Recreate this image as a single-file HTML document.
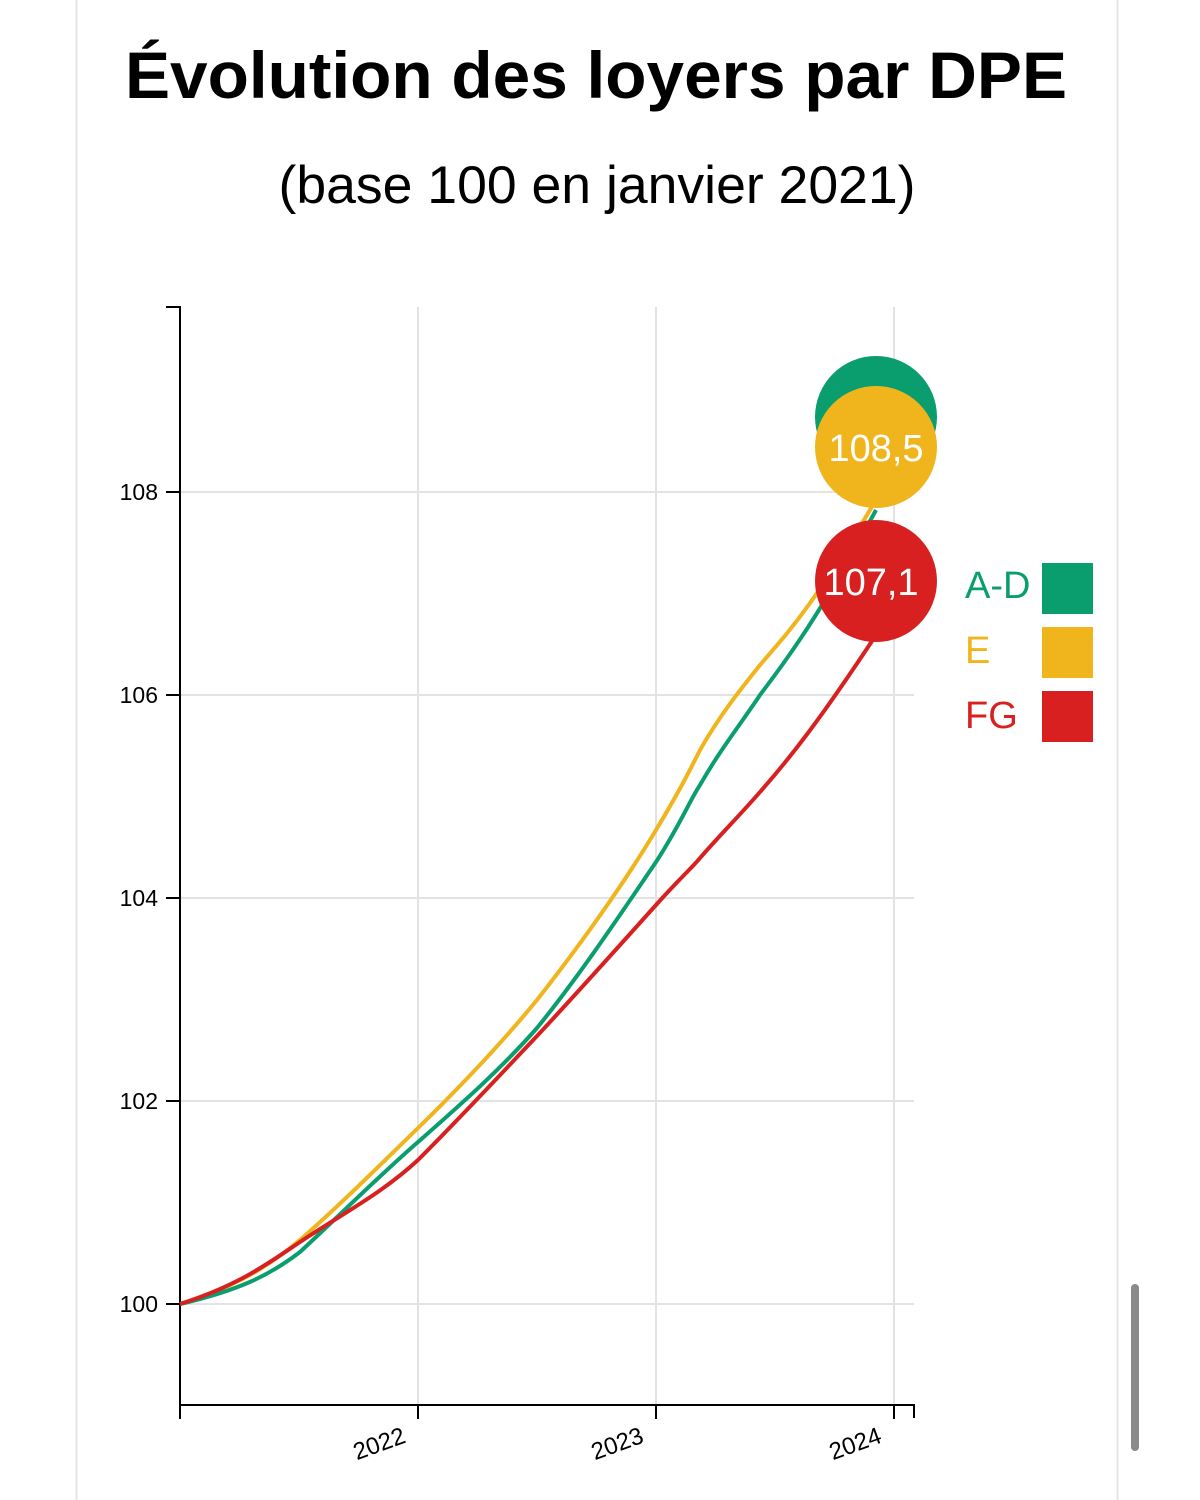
<!DOCTYPE html>
<html><head><meta charset="utf-8"><style>
html,body{margin:0;padding:0;background:#fff;width:1200px;height:1500px;overflow:hidden}
svg{display:block}
</style></head><body>
<svg width="1200" height="1500" viewBox="0 0 1200 1500" font-family="Liberation Sans, sans-serif">
<rect width="1200" height="1500" fill="#fff"/>
<line x1="76.5" y1="0" x2="76.5" y2="1500" stroke="#e4e4e4" stroke-width="2"/>
<line x1="1117.5" y1="0" x2="1117.5" y2="1500" stroke="#e4e4e4" stroke-width="2"/>
<text x="596" y="98" text-anchor="middle" font-size="66" font-weight="bold" fill="#000" textLength="942" lengthAdjust="spacingAndGlyphs">Évolution des loyers par DPE</text>
<text x="597" y="203" text-anchor="middle" font-size="53" fill="#000" textLength="637" lengthAdjust="spacingAndGlyphs">(base 100 en janvier 2021)</text>
<g stroke="#e3e3e3" stroke-width="2">
<line x1="180" y1="1304" x2="914" y2="1304"/><line x1="180" y1="1101" x2="914" y2="1101"/>
<line x1="180" y1="898" x2="914" y2="898"/><line x1="180" y1="695" x2="914" y2="695"/>
<line x1="180" y1="492" x2="914" y2="492"/>
<line x1="418" y1="307" x2="418" y2="1405"/><line x1="656" y1="307" x2="656" y2="1405"/><line x1="894" y1="307" x2="894" y2="1405"/>
</g>
<g stroke="#000" stroke-width="2" fill="none">
<path d="M166 307H180V1405H914V1418"/>
<line x1="166" y1="1304" x2="180" y2="1304"/><line x1="166" y1="1101" x2="180" y2="1101"/>
<line x1="166" y1="898" x2="180" y2="898"/><line x1="166" y1="695" x2="180" y2="695"/>
<line x1="166" y1="492" x2="180" y2="492"/>
<line x1="180" y1="1405" x2="180" y2="1419"/><line x1="418" y1="1405" x2="418" y2="1419"/>
<line x1="656" y1="1405" x2="656" y2="1419"/><line x1="894" y1="1405" x2="894" y2="1419"/>
</g>
<g font-size="23" text-anchor="end" fill="#000">
<text x="158" y="1312">100</text><text x="158" y="1109">102</text><text x="158" y="906">104</text>
<text x="158" y="703">106</text><text x="158" y="500">108</text>
</g>
<g font-size="24" fill="#000" text-anchor="end">
<text transform="translate(407,1442) rotate(-20)">2022</text>
<text transform="translate(645,1442) rotate(-20)">2023</text>
<text transform="translate(883,1442) rotate(-20)">2024</text>
</g>
<g fill="none" stroke-width="4">
<path stroke="#f0b41c" d="M180 1304 C240 1285 270 1265 300 1240 C340 1205 380 1165 418 1128 C460 1087 500 1045 537 1000 C580 945 620 890 656 830 C680 790 690 770 700 750 C720 715 740 690 760 665 C790 630 810 610 876 500"/>
<path stroke="#0a9e6e" d="M180 1304 C240 1290 270 1275 300 1252 C340 1215 380 1175 418 1142 C460 1105 500 1070 537 1028 C580 975 620 915 656 862 C680 825 690 800 700 785 C720 750 740 725 760 695 C790 655 820 615 876 510"/>
<path stroke="#d92020" d="M180 1304 C240 1285 270 1262 300 1242 C340 1215 380 1195 418 1160 C460 1118 500 1075 537 1036 C580 990 620 945 656 905 C680 878 690 870 700 858 C720 835 740 815 760 792 C790 758 820 720 876 635"/>
</g>
<circle cx="876" cy="417" r="61" fill="#0a9e6e"/>
<circle cx="876" cy="447" r="61" fill="#f0b41c"/>
<text x="876" y="461" text-anchor="middle" font-size="38" fill="#fff">108,5</text>
<circle cx="876" cy="581" r="61" fill="#d92020"/>
<text x="871" y="595" text-anchor="middle" font-size="38" fill="#fff">107,1</text>
<g font-size="38">
<text x="965" y="598" fill="#0a9e6e">A-D</text>
<text x="965" y="663" fill="#f0b41c">E</text>
<text x="965" y="728" fill="#d92020">FG</text>
</g>
<rect x="1042" y="563" width="51" height="51" fill="#0a9e6e"/>
<rect x="1042" y="627" width="51" height="51" fill="#f0b41c"/>
<rect x="1042" y="691" width="51" height="51" fill="#d92020"/>
<rect x="1131" y="1284" width="8" height="167" rx="4" fill="#8a8a8a"/>
</svg>
</body></html>
